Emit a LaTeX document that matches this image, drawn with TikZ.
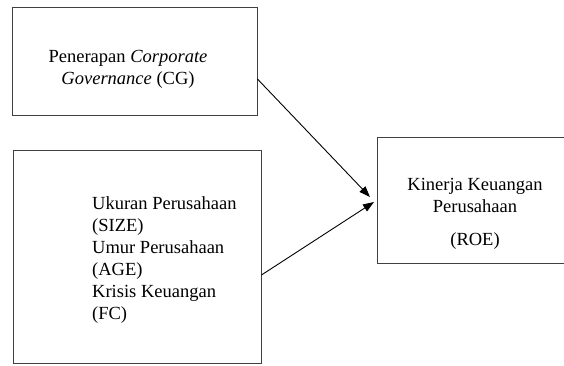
\documentclass[tikz,border=0pt]{standalone}
\usepackage{fontspec}
\setmainfont{Liberation Serif}
\usetikzlibrary{arrows.meta}

\begin{document}
\begin{tikzpicture}[x=1pt, y=-1pt,
        kotak/.style={draw=black!75, line width=0.9pt, minimum width=#1, inner sep=0pt},
        teks/.style={inner sep=0pt, font=\fontsize{18.5}{22}\selectfont},
        panah/.style={line width=0.9pt, -{Triangle[length=11pt, width=8pt]}}]
        \useasboundingbox (0,0) rectangle (564,365);
        \clip (0,0) rectangle (564,365);
        \node[kotak=245pt, minimum height=108pt] (cg) at (134.5,61) {};
        \node[kotak=248pt, minimum height=213pt] (ctrl) at (137,256.5) {};
        \node[kotak=260pt, minimum height=126pt] (roe) at (507,200) {};
        \node[teks, align=center] (cgtxt) at (128,69) {Penerapan \textit{Corporate}\\\textit{Governance} (CG)};
        \node[teks, align=left, anchor=west] (ctrltxt) at (92,260) {Ukuran Perusahaan\\(SIZE)\\Umur Perusahaan\\(AGE)\\Krisis Keuangan\\(FC)};
        \node[teks, align=center] (roetxt) at (475,214) {Kinerja Keuangan\\Perusahaan\\[11pt](ROE)};
        \coordinate (tip1) at (370,197);
        \coordinate (tip2) at (374,202);
        \draw[panah] ([yshift=-18pt]cg.east) -- (tip1);
        \draw[panah] ([yshift=-18.5pt]ctrl.east) -- (tip2);
    \end{tikzpicture}
\end{document}
